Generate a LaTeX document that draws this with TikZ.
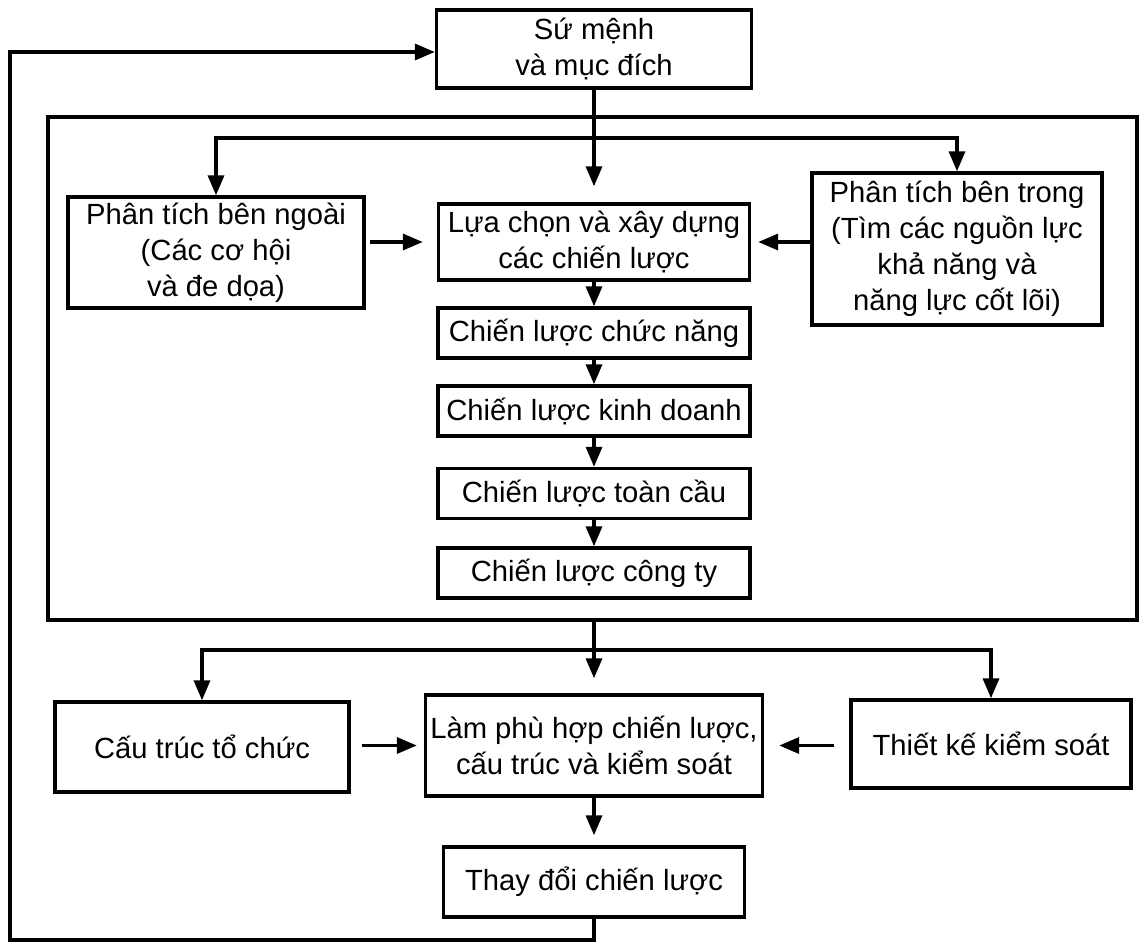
\documentclass[tikz,border=0pt]{standalone}
\usepackage{fontspec}
\setmainfont{Liberation Sans}
\usetikzlibrary{positioning,arrows.meta,calc}

\tikzset{
    box/.style={draw, line width=1.7pt, align=center, inner sep=2pt,
        font=\fontsize{14.6pt}{18pt}\selectfont},
    stratbox/.style={box, minimum width=156pt, minimum height=25pt},
    flow/.style={line width=1.7pt, -{Triangle[length=10pt,width=8pt]}},
}

\begin{document}
\begin{tikzpicture}[x=0.5pt, y=-0.5pt]
    \useasboundingbox (0,0) rectangle (1140,942);

    % Mission
    \node [box, minimum width=157.5pt, minimum height=39pt] (mission) at (594,49) {Sứ mệnh\\và mục đích};

    % Frame of the strategy part
    \node [draw, line width=2.2pt, minimum width=544.5pt, minimum height=251.5pt] (frame) at (592.5,368.5) {};

    % Analysis
    \node [box, minimum width=148pt, minimum height=55.5pt] (ext) at (216,252.5) {Phân tích bên ngoài\\(Các cơ hội\\và đe dọa)};
    \node [box, minimum width=145pt, minimum height=76pt] (intern) at (957,249) {Phân tích bên trong\\(Tìm các nguồn lực\\khả năng và\\năng lực cốt lõi)};

    % Strategies
    \node [box, minimum width=155.5pt, minimum height=38pt] (choose) at (594,242) {Lựa chọn và xây dựng\\các chiến lược};
    \node [stratbox] (func) at (594,333) {Chiến lược chức năng};
    \node [stratbox] (busi) at (594,411) {Chiến lược kinh doanh};
    \node [stratbox] (glob) at (594,493.5) {Chiến lược toàn cầu};
    \node [stratbox] (corp) at (594,573) {Chiến lược công ty};

    % Implementation
    \node [box, minimum width=147pt, minimum height=45pt] (struct) at (202,747) {Cấu trúc tổ chức};
    \node [box, minimum width=168.5pt, minimum height=50.5pt] (fit) at (594,745.5) {Làm phù hợp chiến lược,\\cấu trúc và kiểm soát};
    \node [box, minimum width=140pt, minimum height=44pt] (ctrl) at (991,744) {Thiết kế kiểm soát};
    \node [box, minimum width=150.5pt, minimum height=35pt] (change) at (594,882) {Thay đổi chiến lược};

    % Top branches
    \coordinate (split) at (594,138);
    \draw [flow, shorten >=8pt] (mission) -- (choose);
    \draw [flow] (split) -| (ext.north);
    \draw [flow] (split) -| (intern.north);
    \draw [flow, shorten <=2pt, shorten >=7pt] (ext.east |- choose) -- (choose.west);
    \draw [flow, shorten >=3.5pt] (intern.west |- choose) -- (choose.east);

    % Chain of strategies
    \foreach \a/\b in {choose/func, func/busi, busi/glob, glob/corp}
        \draw [flow] (\a) -- (\b);

    % Bottom branches
    \coordinate (split2) at (594,650);
    \draw [flow, shorten >=7.5pt] (fit.north |- frame.south) -- (fit.north);
    \draw [flow] (split2) -| (struct.north);
    \draw [flow] (split2) -| (ctrl.north);
    \draw [flow, shorten <=5.5pt, shorten >=3.5pt] (struct.east |- fit) -- (fit.west);
    \draw [flow, shorten <=7.5pt, shorten >=7.5pt] (ctrl.west |- fit) -- (fit.east);
    \draw [flow, shorten >=5pt] (fit) -- (change);

    % Feedback
    \coordinate (loopbl) at (10,940);
    \coordinate (looptl) at (10,52);
    \draw [flow] (change.south) |- (loopbl) -- (looptl) -- (mission.west |- looptl);
\end{tikzpicture}
\end{document}
